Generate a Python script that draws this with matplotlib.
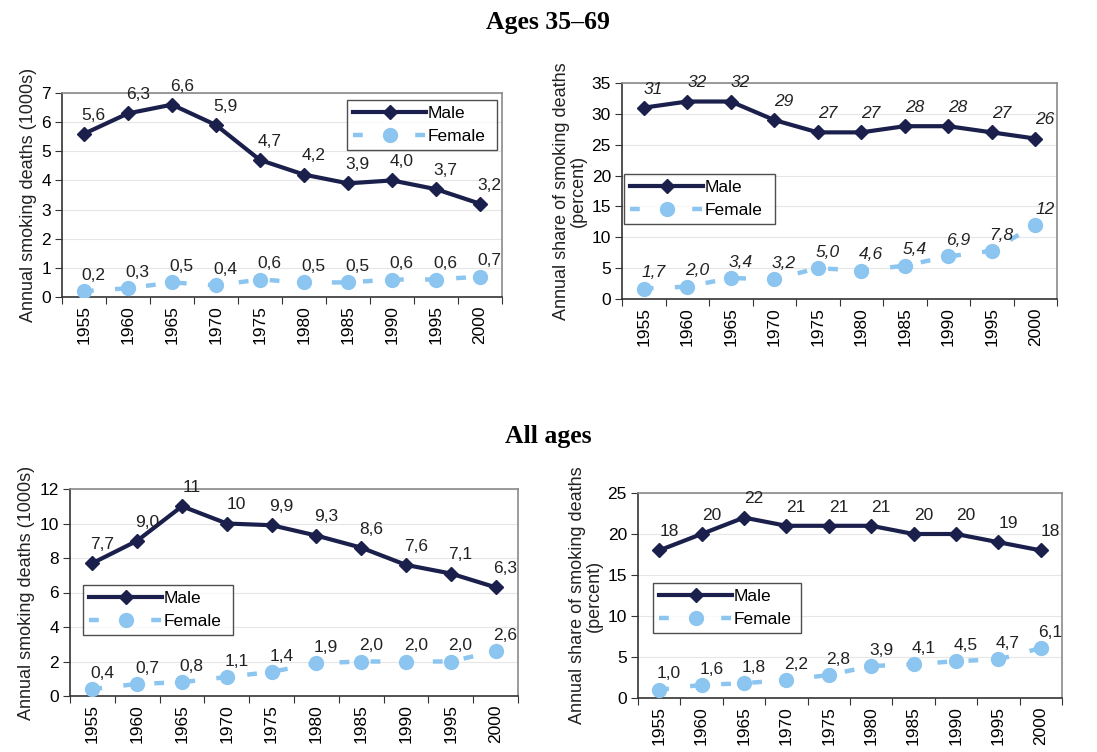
import numpy as np
import matplotlib.pyplot as plt

plt.rcParams['font.family'] = ['Liberation Sans', 'DejaVu Sans']

years = ['1955', '1960', '1965', '1970', '1975', '1980', '1985', '1990', '1995', '2000']

# ages 35-69
male_deaths_3569 = [5.6, 6.3, 6.6, 5.9, 4.7, 4.2, 3.9, 4.0, 3.7, 3.2]
female_deaths_3569 = [0.2, 0.3, 0.5, 0.4, 0.6, 0.5, 0.5, 0.6, 0.6, 0.7]
male_share_3569 = [31, 32, 32, 29, 27, 27, 28, 28, 27, 26]
female_share_3569 = [1.7, 2.0, 3.4, 3.2, 5.0, 4.6, 5.4, 6.9, 7.8, 12]

# all ages
male_deaths_all = [7.7, 9.0, 11, 10, 9.9, 9.3, 8.6, 7.6, 7.1, 6.3]
female_deaths_all = [0.4, 0.7, 0.8, 1.1, 1.4, 1.9, 2.0, 2.0, 2.0, 2.6]
male_share_all = [18, 20, 22, 21, 21, 21, 20, 20, 19, 18]
female_share_all = [1.0, 1.6, 1.8, 2.2, 2.8, 3.9, 4.1, 4.5, 4.7, 6.1]

MALE = '#1b1f4b'
FEMALE = '#8cc6f0'

W, H = 1097, 752
fig = plt.figure(figsize=(W / 100, H / 100), dpi=100)
fig.patch.set_facecolor('white')


def px_axes(x0, y0, x1, y1):
    return fig.add_axes([x0 / W, 1 - y1 / H, (x1 - x0) / W, (y1 - y0) / H])


def fmt(v):
    if float(v).is_integer() and v >= 10:
        return str(int(v))
    return ('%.1f' % v).replace('.', ',')


def panel(ax, male, female, ymax, ystep, ylabel, legend_box, italic):
    x = np.arange(len(years)) + 0.5
    ax.plot(x, male, color=MALE, lw=3, marker='D', ms=7.5, label='Male', zorder=3)
    ax.plot(x, female, color=FEMALE, lw=3.2, ls=(0, (2.2, 4.8)), marker='o', ms=10,
            label='Female', zorder=3)
    style = 'italic' if italic else 'normal'
    for xi, m, f in zip(x, male, female):
        ax.annotate(fmt(m), (xi, m), xytext=(7, 8), textcoords='offset points',
                    fontsize=12.5, fontstyle=style, color='#222222', ha='center', va='bottom')
        ax.annotate(fmt(f), (xi, f), xytext=(7, 6), textcoords='offset points',
                    fontsize=12.5, fontstyle=style, color='#222222', ha='center', va='bottom')
    ax.set_xlim(0, len(years))
    ax.set_ylim(0, ymax)
    ax.set_yticks(np.arange(0, ymax + 0.01, ystep))
    ax.set_xticks(np.arange(0, len(years) + 1))
    ax.set_xticklabels([])
    ax.set_xticks(x, minor=True)
    ax.set_xticklabels(years, minor=True, rotation=90, fontsize=12.5)
    ax.tick_params(axis='x', which='minor', length=0, pad=6)
    ax.tick_params(axis='x', which='major', length=5, color='#333333')
    ax.tick_params(axis='y', labelsize=12.5, length=5, color='#333333', pad=3)
    ax.grid(axis='y', color='#e6e6e6', lw=0.8)
    ax.set_axisbelow(True)
    for s in ['top', 'right']:
        ax.spines[s].set_color('#8a8a8a')
        ax.spines[s].set_linewidth(1.2)
    for s in ['left', 'bottom']:
        ax.spines[s].set_color('#333333')
        ax.spines[s].set_linewidth(1.2)
    ax.set_ylabel(ylabel, fontsize=13, color='#222222', labelpad=3, linespacing=1.0)
    leg = ax.legend(loc='lower left', bbox_to_anchor=legend_box, mode='expand',
                    fontsize=12.5, frameon=True, fancybox=False, handlelength=4.2,
                    handletextpad=0.1, borderpad=0.35, labelspacing=0.45,
                    borderaxespad=0)
    leg.get_frame().set_edgecolor('#222222')
    leg.get_frame().set_linewidth(1.0)


def legend_frac(ax_px, box_px):
    x0, y0, x1, y1 = ax_px
    bx0, by0, bx1, by1 = box_px
    return ((bx0 - x0) / (x1 - x0), (y1 - by1) / (y1 - y0),
            (bx1 - bx0) / (x1 - x0), (by1 - by0) / (y1 - y0))


p1 = (62, 93, 502, 297)
p2 = (622, 83, 1057, 299)
p3 = (70, 489, 518, 696)
p4 = (638, 493, 1062, 698)

ax1 = px_axes(*p1)
panel(ax1, male_deaths_3569, female_deaths_3569, 7, 1, 'Annual smoking deaths (1000s)',
      legend_frac(p1, (347, 95, 497, 150)), False)
ax2 = px_axes(*p2)
panel(ax2, male_share_3569, female_share_3569, 35, 5,
      'Annual share of smoking deaths\n(percent)',
      legend_frac(p2, (624, 168, 775, 224)), True)
ax3 = px_axes(*p3)
panel(ax3, male_deaths_all, female_deaths_all, 12, 2, 'Annual smoking deaths (1000s)',
      legend_frac(p3, (83, 578, 233, 635)), False)
ax4 = px_axes(*p4)
panel(ax4, male_share_all, female_share_all, 25, 5,
      'Annual share of smoking deaths\n(percent)',
      legend_frac(p4, (653, 577, 801, 633)), False)

fig.text(548 / W, 1 - 23 / H, 'Ages 35\u201369', family='Liberation Serif',
         fontweight='bold', fontsize=18.5, ha='center', va='center')
fig.text(548 / W, 1 - 437 / H, 'All ages', family='Liberation Serif',
         fontweight='bold', fontsize=18.5, ha='center', va='center')

fig.savefig('out.png', dpi=100)
